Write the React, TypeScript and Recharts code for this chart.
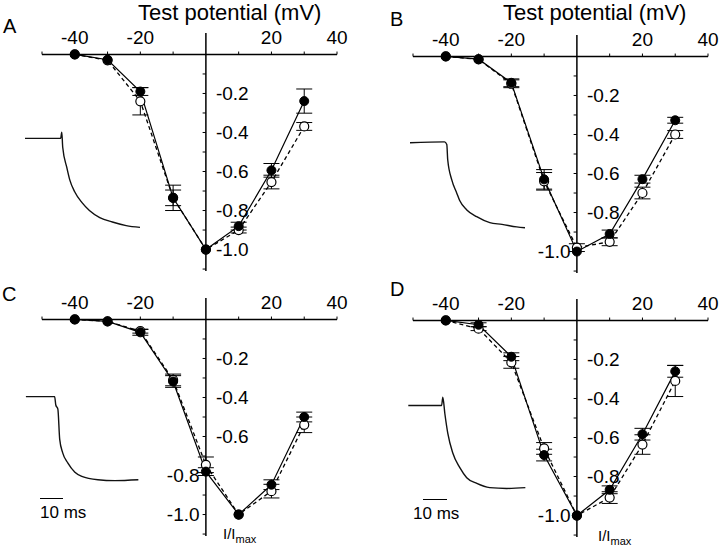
import React from 'react';
import { ComposedChart, LineChart, Line, XAxis, YAxis, ReferenceLine, ErrorBar } from 'recharts';

// test potentials (mV)
const voltages = [-40, -30, -20, -10, 0, 10, 20, 30];
const xTicks = [-50, -40, -30, -20, -10, 10, 20, 30, 40];
const xTickLabels = [-40, -20, 20, 40];
const yTicks = [-0.1, -0.2, -0.3, -0.4, -0.5, -0.6, -0.7, -0.8, -0.9, -1.0, -1.1];
const yTickLabels = [-0.2, -0.4, -0.6, -0.8, -1.0];

// I/Imax, filled = control, open = test
const filledA = [0, -0.027, -0.19, -0.735, -1.0, -0.88, -0.594, -0.239];
const openA = [0, -0.03, -0.24, -0.735, -1.0, -0.9, -0.654, -0.369];
const filledErrA = [0, 0, 0.02, 0.04, 0, 0.02, 0.035, 0.062];
const openErrA = [0, 0, 0.07, 0.065, 0, 0.015, 0.035, 0.02];

const filledB = [0, -0.014, -0.135, -0.63, -1.0, -0.91, -0.629, -0.327];
const openB = [0, -0.015, -0.14, -0.64, -0.98, -0.95, -0.7, -0.4];
const filledErrB = [0, 0, 0.02, 0.05, 0, 0.02, 0.02, 0.015];
const openErrB = [0, 0, 0.02, 0.045, 0.02, 0.02, 0.03, 0.02];

const filledC = [0, -0.01, -0.066, -0.318, -0.78, -1.0, -0.847, -0.5];
const openC = [0, -0.01, -0.06, -0.31, -0.745, -1.0, -0.88, -0.54];
const filledErrC = [0, 0, 0.015, 0.03, 0.02, 0, 0.025, 0.025];
const openErrC = [0, 0, 0.01, 0.03, 0.04, 0, 0.035, 0.04];

const filledD = [0, -0.022, -0.186, -0.69, -1.0, -0.868, -0.583, -0.261];
const openD = [0, -0.042, -0.215, -0.656, -1.0, -0.908, -0.636, -0.31];
const filledErrD = [0, 0.01, 0.02, 0.03, 0, 0.02, 0.03, 0.03];
const openErrD = [0, 0.01, 0.03, 0.03, 0, 0.03, 0.05, 0.08];

// inset current traces (ms, normalised current)
const traceTimeA = [-16, -0.5, 0, 0.4, 2.2, 3.5, 5.6, 8.7, 12, 16.5, 22, 28, 34];
const traceA = [0, 0, 0.07, -0.1, -0.33, -0.47, -0.6, -0.72, -0.81, -0.89, -0.94, -0.98, -1.0];
const traceTimeB = [-16, -1, 0, 0.4, 2.2, 4.3, 5.6, 8.7, 13, 18.7, 24, 30.4, 34];
const traceB = [0, 0.01, -0.02, -0.2, -0.44, -0.59, -0.68, -0.79, -0.87, -0.94, -0.96, -0.99, -1.0];
const traceTimeC = [-13, -0.5, 0, 0.9, 1.7, 3, 5.2, 8.3, 11.3, 18.3, 25.6, 36];
const traceC = [0, 0, -0.1, -0.15, -0.51, -0.67, -0.79, -0.9, -0.95, -0.99, -1.0, -0.99];
const traceTimeD = [-15, -0.5, 0, 0.9, 2.2, 4.3, 7.4, 10.4, 14.8, 20.4, 27.8, 36];
const traceD = [0, 0, 0.1, -0.1, -0.34, -0.57, -0.75, -0.87, -0.94, -0.99, -1.0, -0.99];

const M = 20;
const PW = 295;
const PH = 238;
const font = '"Liberation Sans", Arial, Helvetica, sans-serif';

type PanelProps = {
  left: number;
  top: number;
  filled: number[];
  open: number[];
  filledErr: number[];
  openErr: number[];
  leftLabels: number[];
};

const Panel = ({ left, top, filled, open, filledErr, openErr, leftLabels }: PanelProps) => {
  const data = voltages.map((v, i) => ({
    v,
    filled: filled[i],
    open: open[i],
    fe: filledErr[i],
    oe: openErr[i],
  }));
  return (
    <div style={{ position: 'absolute', left: left - M, top: top - M }}>
      <ComposedChart width={PW + 2 * M} height={PH + 2 * M} data={data}
        margin={{ top: M, right: M, bottom: M, left: M }}>
        <XAxis type="number" dataKey="v" domain={[-50, 40]} allowDataOverflow hide />
        <YAxis type="number" domain={[-1.11, 0.11]} allowDataOverflow hide />
        <ReferenceLine segment={[{ x: -50, y: 0 }, { x: 40, y: 0 }]} stroke="#000" strokeWidth={1.5} />
        <ReferenceLine segment={[{ x: 0, y: 0.11 }, { x: 0, y: -1.11 }]} stroke="#000" strokeWidth={1.5} />
        {xTicks.map((t) => (
          <ReferenceLine key={'xt' + t} segment={[{ x: t, y: 0 }, { x: t, y: 0.015 }]} stroke="#000" strokeWidth={1}
            label={xTickLabels.includes(t)
              ? { value: String(t), position: 'top', offset: 8, fill: '#000', fontSize: 19 }
              : undefined} />
        ))}
        {yTicks.map((t) => {
          const labelled = yTickLabels.some((l) => Math.abs(l - t) < 1e-6);
          const onLeft = leftLabels.some((l) => Math.abs(l - t) < 1e-6);
          return (
            <ReferenceLine key={'yt' + t} segment={[{ x: -1, y: t }, { x: 0, y: t }]} stroke="#000" strokeWidth={1}
              label={labelled
                ? { value: t.toFixed(1), position: onLeft ? 'left' : 'right', offset: onLeft ? 3 : 10, fill: '#000', fontSize: 19 }
                : undefined} />
          );
        })}
        <Line type="linear" dataKey="open" stroke="#000" strokeWidth={1.3} strokeDasharray="4 3"
          dot={{ r: 4.5, fill: '#fff', stroke: '#000', strokeWidth: 1.2, strokeDasharray: '' }} isAnimationActive={false}>
          <ErrorBar dataKey="oe" width={8} stroke="#000" strokeWidth={1} />
        </Line>
        <Line type="linear" dataKey="filled" stroke="#000" strokeWidth={1.2}
          dot={{ r: 4.5, fill: '#000', stroke: '#000', strokeWidth: 1 }} isAnimationActive={false}>
          <ErrorBar dataKey="fe" width={8} stroke="#000" strokeWidth={1} />
        </Line>
      </ComposedChart>
    </div>
  );
};

type TraceProps = { left: number; top: number; k: number; time: number[]; current: number[] };

const Trace = ({ left, top, k, time, current }: TraceProps) => {
  const data = time.map((t, i) => ({ t, c: current[i] }));
  return (
    <div style={{ position: 'absolute', left, top }}>
      <LineChart width={52 * 2.3} height={1.2 * k} data={data} margin={{ top: 0, right: 0, bottom: 0, left: 0 }}>
        <XAxis type="number" dataKey="t" domain={[-16, 36]} allowDataOverflow hide />
        <YAxis type="number" domain={[-1.05, 0.15]} allowDataOverflow hide />
        <Line type="monotone" dataKey="c" stroke="#111" strokeWidth={1.4} dot={false} isAnimationActive={false} />
      </LineChart>
    </div>
  );
};

const txt = (left: number, top: number, size: number): React.CSSProperties => ({
  position: 'absolute', left, top, fontSize: size, lineHeight: 1, whiteSpace: 'nowrap', color: '#000',
});

const App = () => (
  <div style={{ position: 'absolute', left: 0, top: 0, width: 720, height: 550, background: '#fff', fontFamily: font }}>
    <Panel left={42.1} top={32.5} filled={filledA} open={openA} filledErr={filledErrA} openErr={openErrA} leftLabels={[]} />
    <Panel left={413.1} top={34.5} filled={filledB} open={openB} filledErr={filledErrB} openErr={openErrB} leftLabels={[-1.0]} />
    <Panel left={42.1} top={297.5} filled={filledC} open={openC} filledErr={filledErrC} openErr={openErrC} leftLabels={[-0.8, -1.0]} />
    <Panel left={413.1} top={298.5} filled={filledD} open={openD} filledErr={filledErrD} openErr={openErrD} leftLabels={[-1.0]} />

    <Trace left={25.2} top={124.6} k={89} time={traceTimeA} current={traceA} />
    <Trace left={410.2} top={130.3} k={85} time={traceTimeB} current={traceB} />
    <Trace left={19.2} top={384.4} k={84} time={traceTimeC} current={traceC} />
    <Trace left={406.2} top={392.6} k={83} time={traceTimeD} current={traceD} />

    <div style={txt(138, 2, 22)}>Test potential (mV)</div>
    <div style={txt(503, 2, 22)}>Test potential (mV)</div>
    <div style={txt(3, 16, 20)}>A</div>
    <div style={txt(390, 9, 20)}>B</div>
    <div style={txt(2, 284, 20)}>C</div>
    <div style={txt(390, 279, 20)}>D</div>

    <div style={{ position: 'absolute', left: 40, top: 498, width: 23, borderTop: '1.5px solid #000' }} />
    <div style={txt(40, 504, 17)}>10 ms</div>
    <div style={{ position: 'absolute', left: 423, top: 499, width: 24, borderTop: '1.5px solid #000' }} />
    <div style={txt(413, 505, 17)}>10 ms</div>

    <div style={txt(223, 526, 15)}>I/I<sub style={{ fontSize: 11 }}>max</sub></div>
    <div style={txt(598, 528, 15)}>I/I<sub style={{ fontSize: 11 }}>max</sub></div>
  </div>
);

export default App;
